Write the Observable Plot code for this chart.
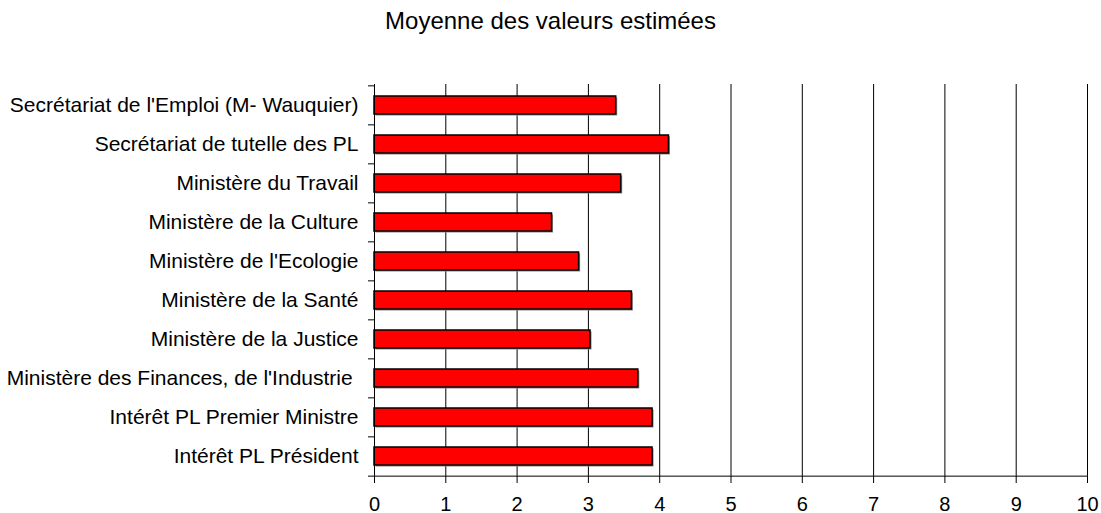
<!DOCTYPE html>
<html>
<head>
<meta charset="utf-8">
<script src="https://cdn.jsdelivr.net/npm/d3@7"></script>
<script src="https://cdn.jsdelivr.net/npm/@observablehq/plot@0.6"></script>
<style>
  html, body { margin: 0; padding: 0; background: #fff; }
  #wrap { position: relative; width: 1101px; height: 513px; font-family: "Liberation Sans", Arial, sans-serif; }
  #title { position: absolute; left: 0; top: 9px; width: 1101px; text-align: center; font-size: 24px; line-height: 1; color: #000; }
</style>
</head>
<body>
<div id="wrap"><div id="title">Moyenne des valeurs estimées</div></div>
<script>
const categories = [
  "Secrétariat de l'Emploi (M- Wauquier)",
  "Secrétariat de tutelle des PL",
  "Ministère du Travail",
  "Ministère de la Culture",
  "Ministère de l'Ecologie",
  "Ministère de la Santé",
  "Ministère de la Justice",
  "Ministère des Finances, de l'Industrie\u00a0",
  "Intérêt PL Premier Ministre",
  "Intérêt PL Président"
];
const values = [3.39, 4.13, 3.46, 2.49, 2.87, 3.61, 3.03, 3.70, 3.90, 3.90];
const xTicks = [0, 1, 2, 3, 4, 5, 6, 7, 8, 9, 10];

const data = categories.map((c, i) => ({label: c, value: values[i]}));

const W = 1101, H = 513, mt = 84, mb = 36, ml = 374, mr = 14;
const step = (H - mt - mb) / categories.length;

const chart = Plot.plot({
  width: W,
  height: H,
  marginTop: mt,
  marginBottom: mb,
  marginLeft: ml,
  marginRight: mr,
  style: {fontFamily: "'Liberation Sans', Arial, sans-serif", fontSize: "21px", color: "#000", background: "#fff", overflow: "visible"},
  x: {domain: [0, 10], label: null},
  y: {domain: categories, paddingInner: 0.55, paddingOuter: 0.275, label: null},
  marks: [
    Plot.gridX(xTicks.slice(1), {stroke: "#000", strokeOpacity: 1, strokeWidth: 1}),
    Plot.barX(data, {x: "value", y: "label", fill: "#8a8a8a", dx: 1.5, dy: 1.5}),
    Plot.barX(data, {x: "value", y: "label", fill: "#ff0000", stroke: "#000", strokeWidth: 1.5}),
    Plot.ruleX([0], {stroke: "#000", strokeWidth: 1}),
    Plot.ruleY([categories[categories.length - 1]], {stroke: "#000", strokeWidth: 1, dy: step / 2}),
    Plot.axisX(xTicks, {tickSize: 6, tickPadding: 13, fontSize: 20, stroke: "#000", fill: "#000", label: null}),
    Plot.axisY(categories, {tickSize: 6, tickFormat: () => "", dy: -step / 2, stroke: "#000", label: null}),
    Plot.axisY([categories[categories.length - 1]], {tickSize: 6, tickFormat: () => "", dy: step / 2, stroke: "#000", label: null}),
    Plot.axisY(categories, {tickSize: 0, tickPadding: 16, fontSize: 21, fill: "#000", label: null})
  ]
});
document.getElementById("wrap").appendChild(chart);
</script>
</body>
</html>
